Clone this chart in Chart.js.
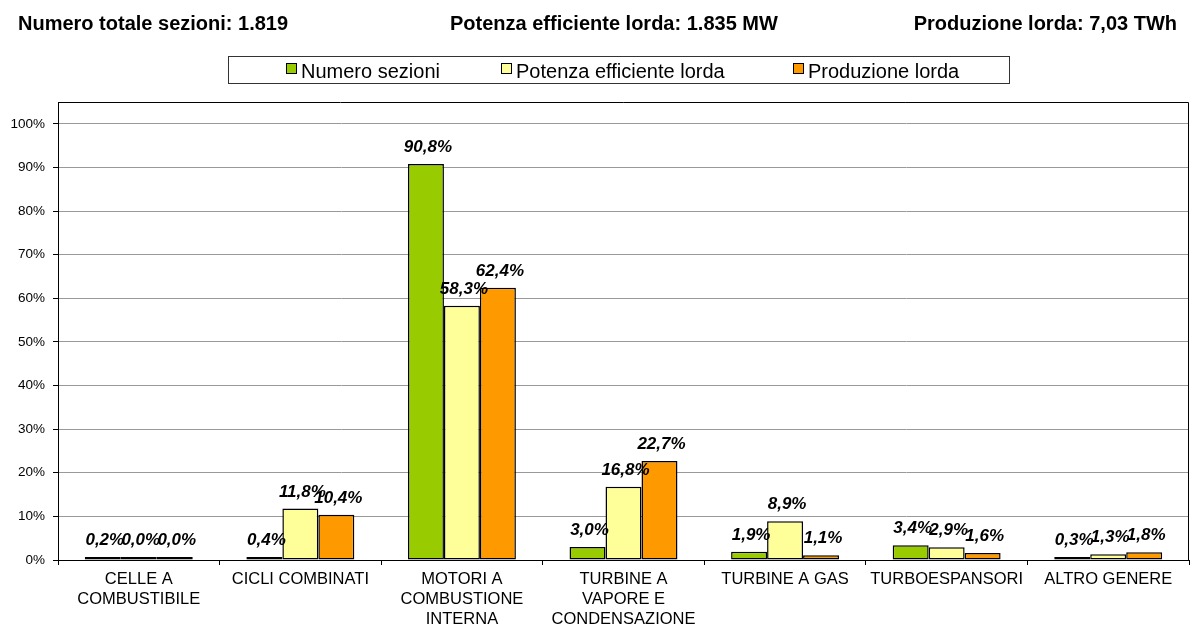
<!DOCTYPE html>
<html>
<head>
<meta charset="utf-8">
<script src="https://cdn.jsdelivr.net/npm/chart.js@4/dist/chart.umd.min.js"></script>
<style>
  body { margin: 0; background: #fff; font-family: 'Liberation Sans', Arial, sans-serif; }
  #wrap { position: relative; width: 1192px; height: 626px; }
  #wrap canvas { position: absolute; left: 0; top: 0; }
  .head { position: absolute; top: 13px; font-size: 20px; line-height: 20px; font-weight: bold; white-space: nowrap; color: #000; }
  #legend { position: absolute; left: 228px; top: 56px; width: 780px; height: 26px; border: 1px solid #333; }
  .lg-box { position: absolute; top: 6px; width: 9px; height: 9px; border: 1px solid #000; }
  .lg-txt { position: absolute; top: 4px; font-size: 20px; line-height: 20px; white-space: nowrap; color: #000; }
</style>
</head>
<body>
<div id="wrap">
  <canvas id="chart"></canvas>
  <div class="head" style="left:18px">Numero totale sezioni: 1.819</div>
  <div class="head" style="left:450px">Potenza efficiente lorda: 1.835 MW</div>
  <div class="head" style="right:15px">Produzione lorda: 7,03 TWh</div>
  <div id="legend"></div>
</div>
<script>
const categories = [
  ['CELLE A', 'COMBUSTIBILE'],
  'CICLI COMBINATI',
  ['MOTORI A', 'COMBUSTIONE', 'INTERNA'],
  ['TURBINE A', 'VAPORE E', 'CONDENSAZIONE'],
  'TURBINE A GAS',
  'TURBOESPANSORI',
  'ALTRO GENERE'
];
const seriesNames = ['Numero sezioni', 'Potenza efficiente lorda', 'Produzione lorda'];
const numeroSezioni     = [0.2, 0.4, 90.8,  3.0, 1.9, 3.4, 0.3];
const potenzaEfficiente = [0.0, 11.8, 58.3, 16.8, 8.9, 2.9, 1.3];
const produzioneLorda   = [0.0, 10.4, 62.4, 22.7, 1.1, 1.6, 1.8];
const yTicks = [0, 10, 20, 30, 40, 50, 60, 70, 80, 90, 100];

const colors = ['#99CC00', '#FFFF99', '#FF9900'];
const legendPos = [[57, 72], [272, 287], [564, 579]]; // box / text left, inside legend frame
const FONT = "'Liberation Sans', Arial, sans-serif";

const pct = v => v.toFixed(1).replace('.', ',') + '%';

// legend (html, Excel-style framed row)
const legend = document.getElementById('legend');
seriesNames.forEach((name, i) => {
  legend.insertAdjacentHTML('beforeend',
    `<div class="lg-box" style="left:${legendPos[i][0]}px;background:${colors[i]}"></div>
     <div class="lg-txt" style="left:${legendPos[i][1]}px">${name}</div>`);
});

// cornice dell'area del grafico (lato alto e destro)
const plotFrame = {
  id: 'plotFrame',
  beforeDatasetsDraw(chart) {
    const { ctx, chartArea: a } = chart;
    ctx.save();
    ctx.strokeStyle = '#000';
    ctx.lineWidth = 1;
    ctx.beginPath();
    ctx.moveTo(a.left, a.top + 0.5);
    ctx.lineTo(a.right - 0.5, a.top + 0.5);
    ctx.lineTo(a.right - 0.5, a.bottom);
    ctx.stroke();
    ctx.restore();
  }
};

const barLabels = {
  id: 'barLabels',
  afterDatasetsDraw(chart) {
    const ctx = chart.ctx;
    ctx.save();
    ctx.font = `italic bold 17px ${FONT}`;
    ctx.fillStyle = '#000';
    ctx.textAlign = 'center';
    ctx.textBaseline = 'alphabetic';
    chart.data.datasets.forEach((ds, i) => {
      chart.getDatasetMeta(i).data.forEach((bar, j) => {
        ctx.fillText(pct(ds.data[j]), bar.x + 2, bar.y - 12);
      });
    });
    ctx.restore();
  }
};

const series = [numeroSezioni, potenzaEfficiente, produzioneLorda];

new Chart(document.getElementById('chart'), {
  type: 'bar',
  data: {
    labels: categories,
    datasets: series.map((data, i) => ({
      label: seriesNames[i],
      data,
      backgroundColor: colors[i],
      borderColor: '#000',
      borderWidth: 1.5,
      borderSkipped: false,
      minBarLength: 3,
      categoryPercentage: 0.668,
      barPercentage: 1
    }))
  },
  options: {
    responsive: true,
    maintainAspectRatio: false,
    animation: false,
    layout: { padding: { top: 102, right: 3, left: 0, bottom: 0 } },
    plugins: { legend: { display: false }, tooltip: { enabled: false } },
    scales: {
      x: {
        grid: { offset: true, drawOnChartArea: false, color: '#000', tickLength: 5 },
        border: { color: '#000', width: 1 },
        ticks: { color: '#000', padding: 5, maxRotation: 0, autoSkip: false,
                 font: { family: FONT, size: 16.5, lineHeight: 1.2 } },
        afterFit: s => { s.height = 66; }
      },
      y: {
        min: 0,
        max: 105,
        afterBuildTicks: s => { s.ticks = yTicks.map(value => ({ value })); },
        grid: { color: '#999', tickColor: '#000', tickLength: 5 },
        border: { color: '#000', width: 1 },
        ticks: { color: '#000', padding: 8, font: { family: FONT, size: 13.5 },
                 callback: v => v + '%' },
        afterFit: s => { s.width = 58; }
      }
    }
  },
  plugins: [plotFrame, barLabels]
});
</script>
</body>
</html>
